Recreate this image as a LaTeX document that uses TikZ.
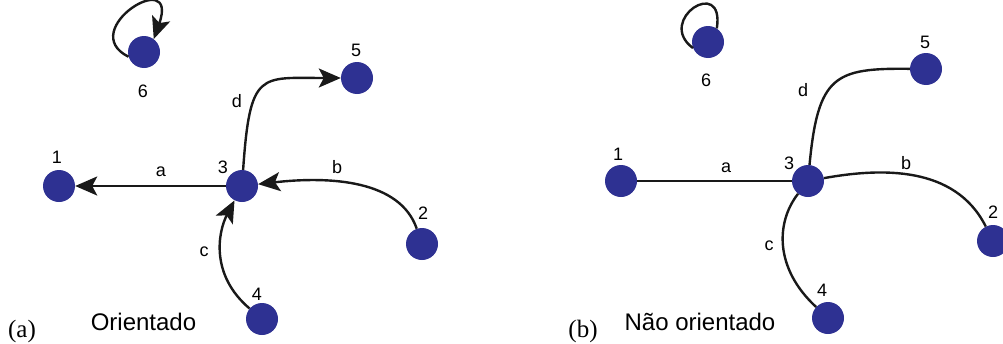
\documentclass[tikz,border=0pt]{standalone}
\usepackage{fontspec}
\newfontfamily\lsans{Liberation Sans}
\newfontfamily\lserif{Liberation Serif}
\usetikzlibrary{arrows.meta}
\definecolor{nodeblue}{RGB}{46,49,146}
\tikzset{
  vtx/.style={circle, fill=nodeblue, draw=none, minimum size=32pt, inner sep=0pt},
  lbl/.style={inner sep=0pt, font=\lsans\fontsize{18}{20}\selectfont},
  title/.style={inner sep=0pt, anchor=base, font=\lsans\fontsize{24}{26}\selectfont},
  tag/.style={inner sep=0pt, anchor=base, font=\lserif\fontsize{25}{27}\selectfont},
  edge/.style={line width=2.4pt, black!90},
  arc/.style={edge, -{Stealth[length=22pt, width=19pt, inset=5pt]}}
}
\begin{document}
\begin{tikzpicture}[x=1pt, y=-1pt]
\useasboundingbox (0,0) rectangle (1003,343);
% ---------- (a) directed ----------
\node[vtx] (n1) at (59,186) {};
\node[vtx] (n2) at (422,244) {};
\node[vtx] (n3) at (242,186) {};
\node[vtx] (n4) at (262,319) {};
\node[vtx] (n5) at (357,78) {};
\node[vtx] (n6) at (144,52) {};
\draw[arc] (n3) -- (n1);
\draw[arc] (n2) .. controls (400,180) and (330,176) .. (n3);
\draw[arc] (n4) .. controls (210,275) and (218,232) .. (n3);
\draw[arc] (n3) .. controls (250,70) and (260,78) .. (n5);
\draw[arc] (n6.197) .. controls (75,30) and (180,-35) .. (n6.53);
\node[lbl] (l1) at (57,157) {1};
\node[lbl] (l2) at (423,213) {2};
\node[lbl] (l3) at (223,167) {3};
\node[lbl] (l4) at (257,294) {4};
\node[lbl] (l5) at (356,50) {5};
\node[lbl] (l6) at (143,91) {6};
\node[lbl] (la) at (161,172) {a};
\node[lbl] (lb) at (337,167) {b};
\node[lbl] (lc) at (204,252) {c};
\node[lbl] (ld) at (237,101) {d};
\node[tag] (ta) at (22,337) {(a)};
\node[title] (oa) at (143.5,330) {Orientado};
% ---------- (b) undirected ----------
\node[vtx] (m1) at (621,181) {};
\node[vtx] (m2) at (993,241) {};
\node[vtx] (m3) at (808,181) {};
\node[vtx] (m4) at (828,318) {};
\node[vtx] (m5) at (926,69) {};
\node[vtx] (m6) at (708,42) {};
\draw[edge] (m3) -- (m1);
\draw[edge] (m3) .. controls (880,168) and (955,165) .. (m2);
\draw[edge] (m3) .. controls (776,222) and (774,268) .. (m4);
\draw[edge] (m3) .. controls (818,75) and (835,68) .. (m5);
\draw[edge] (m6.202) .. controls (655,20) and (725,-25) .. (m6.57);
\node[lbl] (k1) at (618,154) {1};
\node[lbl] (k2) at (993,212) {2};
\node[lbl] (k3) at (789,163) {3};
\node[lbl] (k4) at (822,290) {4};
\node[lbl] (k5) at (925,42) {5};
\node[lbl] (k6) at (706,80) {6};
\node[lbl] (ka) at (726,168) {a};
\node[lbl] (kb) at (906,163) {b};
\node[lbl] (kc) at (769,246) {c};
\node[lbl] (kd) at (803,90) {d};
\node[tag] (tb) at (583,337) {(b)};
\node[title] (ob) at (700,330) {Não orientado};
\end{tikzpicture}
\end{document}
